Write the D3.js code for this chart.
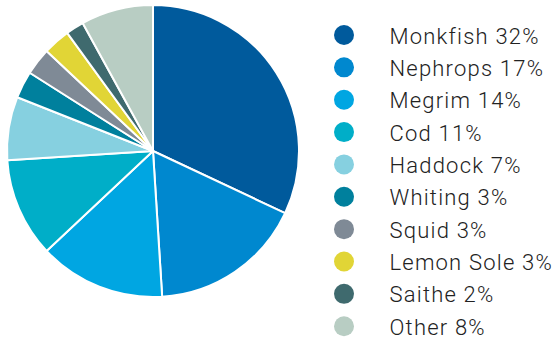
<!DOCTYPE html>
<html><head><meta charset="utf-8">
<script src="https://cdn.jsdelivr.net/npm/d3@7"></script>
<style>body{margin:0;background:#fff}svg{display:block}</style>
</head><body>
<script>
const categories = ["Monkfish","Nephrops","Megrim","Cod","Haddock","Whiting","Squid","Lemon Sole","Saithe","Other"];
const values = [32,17,14,11,7,3,3,3,2,8];
const colors = ["#005a9c","#0088cf","#00a6e2","#00aec8","#86d0e0","#00809d","#7f8a96","#e1d536","#3f6a6e","#b8cdc3"];

const W=559,H=340;
const svg=d3.select("body").append("svg").attr("width",W).attr("height",H);
const cx=153,cy=151,r=146;
const pie=d3.pie().sort(null).value(d=>d)(values);
const arc=d3.arc().innerRadius(0).outerRadius(r);
svg.append("g").attr("transform",`translate(${cx},${cy})`)
  .selectAll("path").data(pie).join("path")
  .attr("d",arc).attr("fill",(d,i)=>colors[i])
  .attr("stroke","#fff").attr("stroke-width",2).attr("stroke-linejoin","round");

const y=d3.scalePoint().domain(categories).range([35,326.2]);
const lg=svg.append("g");
const rows=lg.selectAll("g").data(categories).join("g").attr("transform",d=>`translate(0,${y(d)})`);
rows.append("circle").attr("cx",344).attr("cy",0).attr("r",10).attr("fill",(d,i)=>colors[i]);
rows.append("text").attr("x",389.5).attr("y",8.5)
  .style("font-family","Roboto, sans-serif").style("font-weight",300)
  .style("font-size","22px").style("letter-spacing","1.2px").attr("fill","#222")
  .text((d,i)=>`${d} ${values[i]}%`);
</script>
</body></html>
